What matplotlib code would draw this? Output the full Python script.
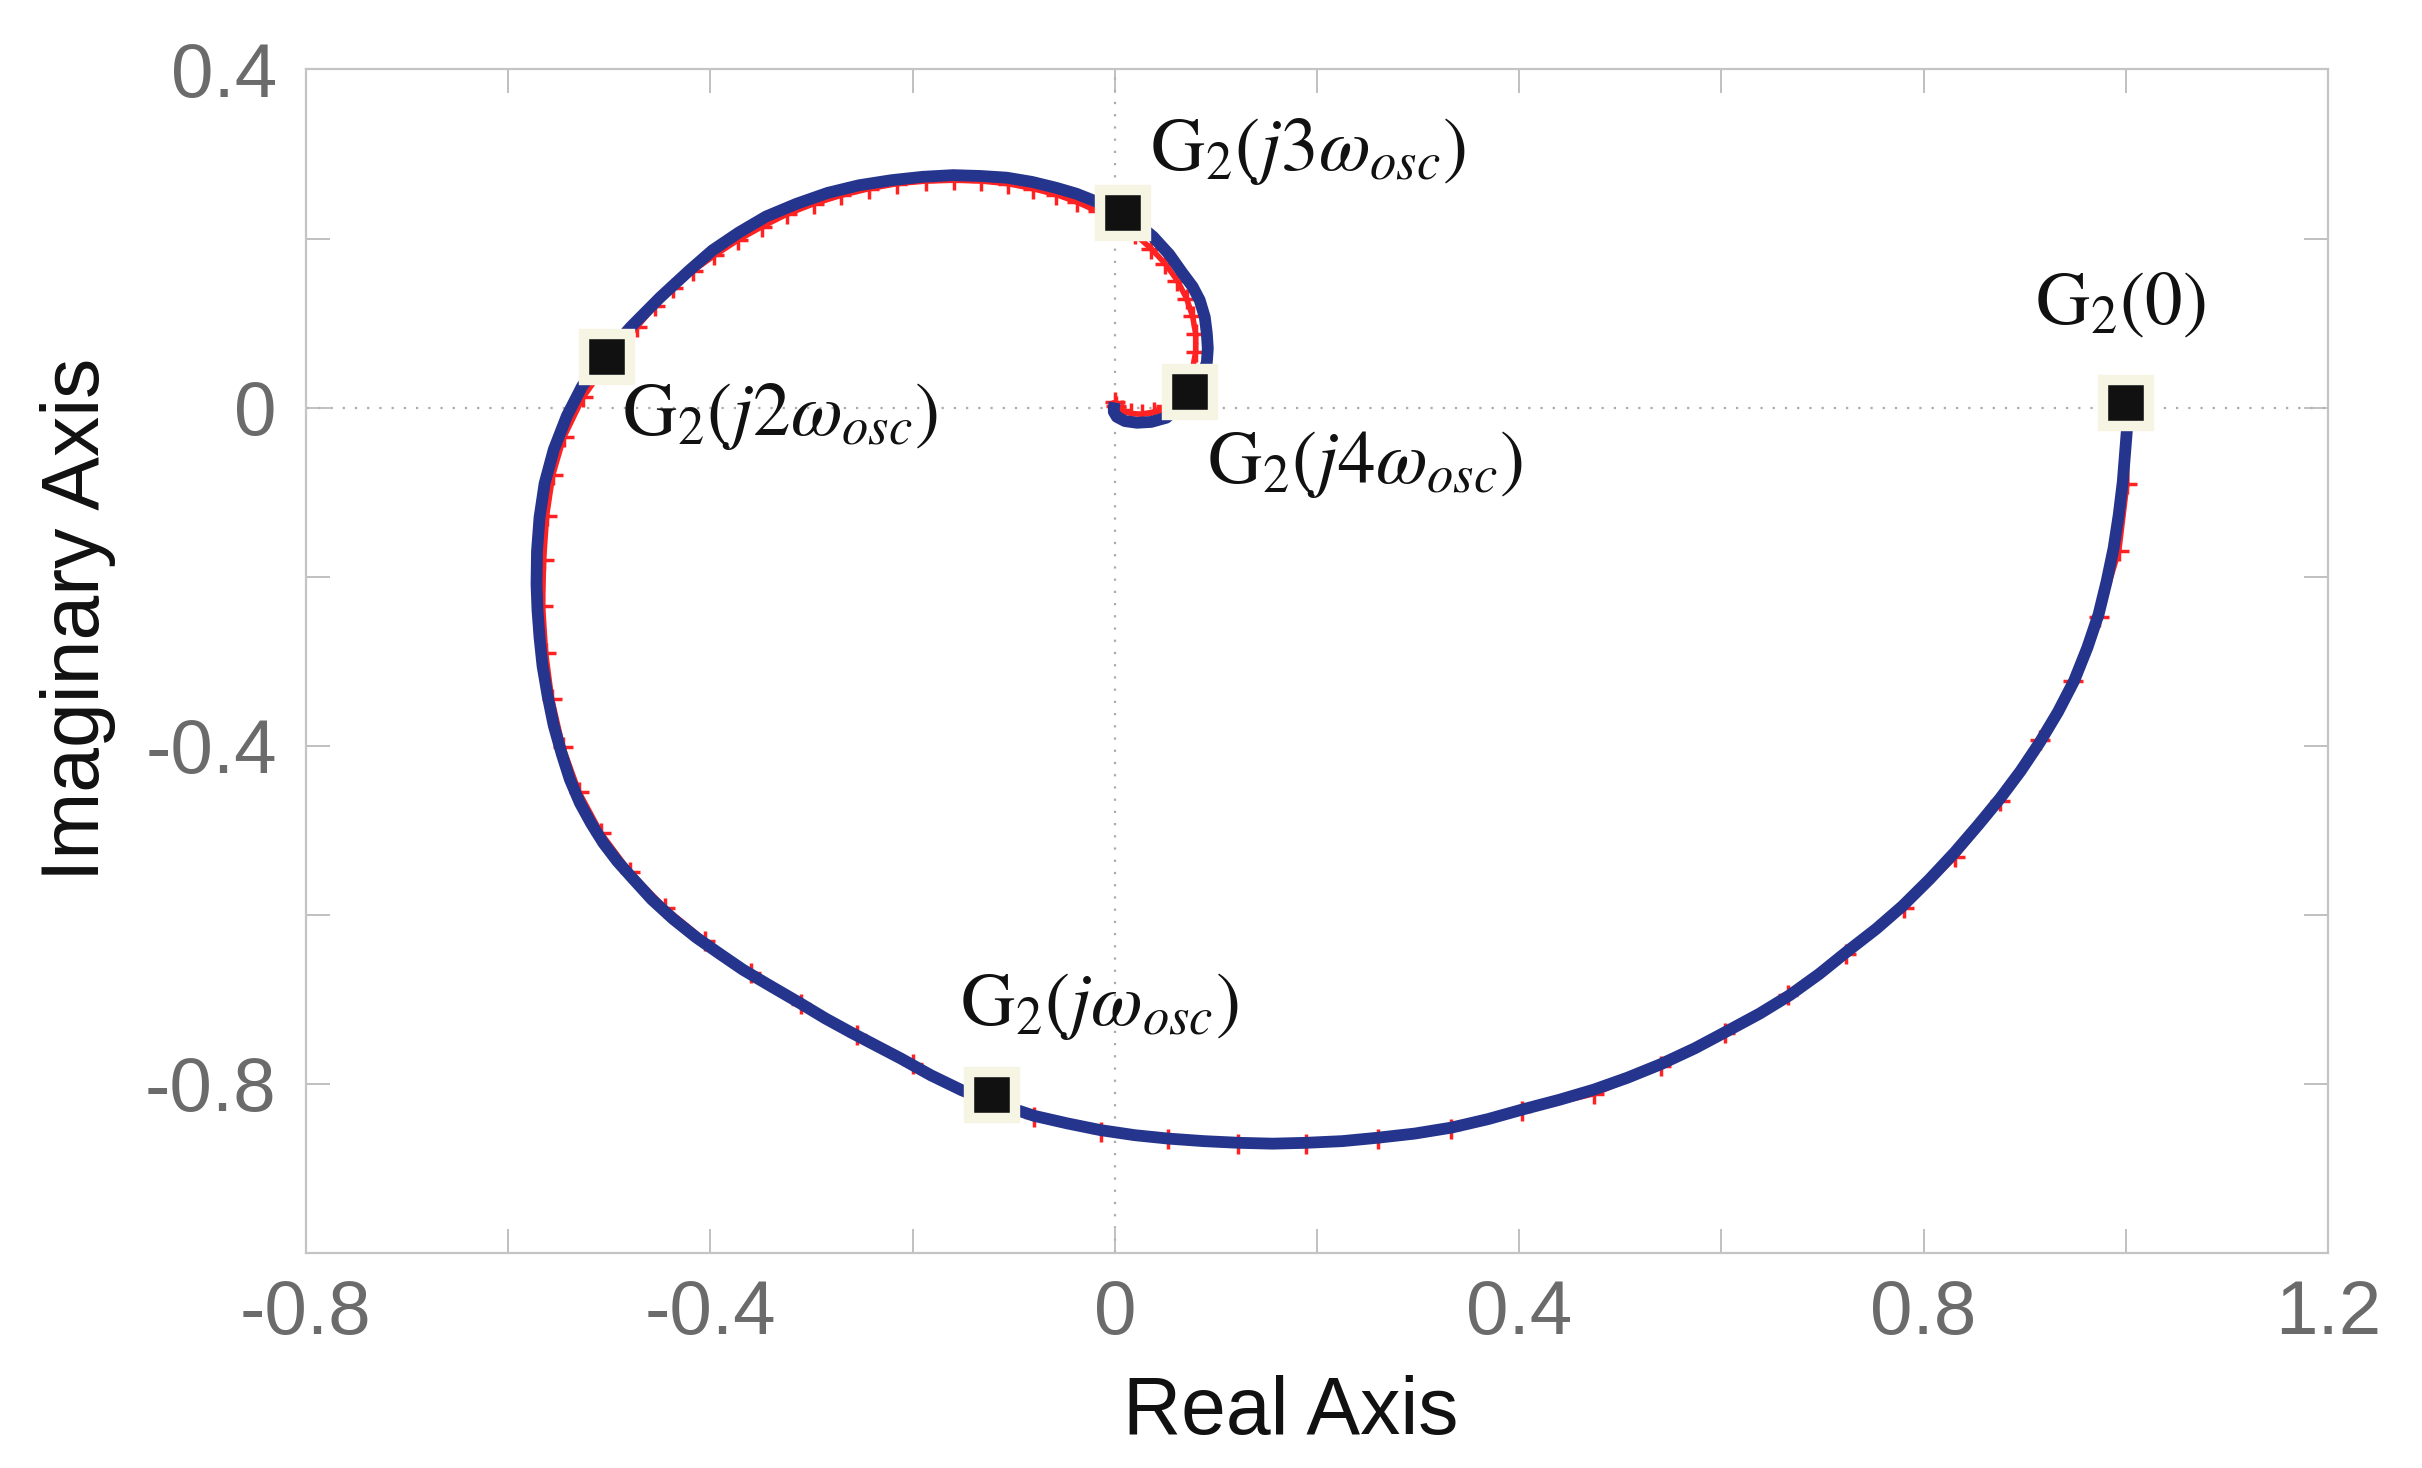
import numpy as np
import matplotlib
matplotlib.use("Agg")
import matplotlib.pyplot as plt

plt.rcParams['font.family'] = ['Liberation Sans', 'DejaVu Sans']
plt.rcParams['mathtext.fontset'] = 'stix'
plt.rcParams['axes.unicode_minus'] = False

# Nyquist curve (thick blue)
blue_re = [1.000, 1.001, 0.999, 0.997, 0.993, 0.988, 0.981, 0.973, 0.962, 0.949,
           0.933, 0.915, 0.896, 0.876, 0.854, 0.831, 0.806, 0.779, 0.753, 0.725,
           0.697, 0.668, 0.638, 0.607, 0.574, 0.540, 0.507, 0.474, 0.440, 0.405,
           0.369, 0.333, 0.297, 0.260, 0.225, 0.189, 0.156, 0.123, 0.088, 0.053,
           0.020, -0.014, -0.047, -0.080, -0.115, -0.151, -0.182, -0.212, -0.236, -0.260,
           -0.286, -0.311, -0.344, -0.368, -0.390, -0.414, -0.437, -0.458, -0.477, -0.492,
           -0.506, -0.518, -0.529, -0.539, -0.547, -0.555, -0.561, -0.566, -0.569, -0.571,
           -0.572, -0.5715, -0.569, -0.564, -0.555, -0.542, -0.527, -0.505, -0.479, -0.450,
           -0.421, -0.398, -0.372, -0.345, -0.315,
           -0.284, -0.253, -0.221, -0.190, -0.160, -0.133, -0.107, -0.082, -0.058, -0.038,
           -0.019, -0.005, 0.008, 0.024, 0.038, 0.054, 0.067, 0.077, 0.084, 0.089,
           0.091, 0.092, 0.091, 0.085, 0.074, 0.064, 0.051, 0.036, 0.022, 0.010,
           0.002, -0.001, -0.001, 0.000]
blue_im = [0.000, -0.028, -0.058, -0.088, -0.127, -0.166, -0.206, -0.245, -0.284, -0.323,
           -0.360, -0.396, -0.430, -0.462, -0.494, -0.526, -0.558, -0.590, -0.617, -0.643,
           -0.670, -0.695, -0.717, -0.737, -0.758, -0.777, -0.793, -0.807, -0.819, -0.830,
           -0.842, -0.852, -0.859, -0.864, -0.868, -0.870, -0.871, -0.870, -0.868, -0.865,
           -0.861, -0.855, -0.847, -0.838, -0.824, -0.808, -0.790, -0.770, -0.755, -0.740,
           -0.723, -0.705, -0.682, -0.665, -0.647, -0.627, -0.605, -0.582, -0.557, -0.537,
           -0.515, -0.492, -0.468, -0.440, -0.410, -0.376, -0.341, -0.306, -0.272, -0.240,
           -0.209, -0.170, -0.130, -0.090, -0.050, -0.010, 0.025, 0.060, 0.095, 0.130,
           0.162, 0.186, 0.207, 0.226, 0.241,
           0.254, 0.263, 0.269, 0.273, 0.275, 0.274, 0.272, 0.267, 0.260, 0.253,
           0.244, 0.237, 0.228, 0.216, 0.202, 0.181, 0.159, 0.143, 0.127, 0.107,
           0.088, 0.070, 0.053, 0.035, 0.018, 0.002, -0.012, -0.017, -0.018, -0.016,
           -0.011, -0.005, 0.000, 0.006]

# second response (red '+' markers)
red_re = [1.000, 1.001, 0.993, 0.973, 0.948, 0.915, 0.876, 0.831, 0.781, 0.723,
          0.666, 0.604, 0.540, 0.474, 0.403, 0.333, 0.260, 0.189, 0.122, 0.053,
          -0.014, -0.080, -0.140, -0.200, -0.255, -0.310, -0.360, -0.405, -0.445, -0.480,
          -0.508, -0.530, -0.546, -0.557, -0.563, -0.566, -0.565, -0.562, -0.556, -0.545,
          -0.526, -0.499, -0.473, -0.455, -0.437, -0.417, -0.396, -0.373, -0.349, -0.324,
          -0.298, -0.271, -0.243, -0.215, -0.187, -0.159, -0.132, -0.106, -0.081, -0.058,
          -0.037, -0.017, 0.002, 0.020, 0.036, 0.050, 0.062, 0.071, 0.077, 0.080,
          0.080, 0.077, 0.071, 0.062, 0.051, 0.039, 0.027, 0.016, 0.007, 0.001,
          0.000]
red_im = [0.000, -0.091, -0.170, -0.248, -0.324, -0.393, -0.466, -0.532, -0.592, -0.647,
          -0.695, -0.740, -0.779, -0.812, -0.832, -0.854, -0.866, -0.871, -0.871, -0.866,
          -0.857, -0.840, -0.813, -0.777, -0.743, -0.706, -0.669, -0.631, -0.592, -0.549,
          -0.504, -0.455, -0.402, -0.345, -0.290, -0.235, -0.180, -0.128, -0.080, -0.035,
          0.012, 0.058, 0.095, 0.120, 0.141, 0.162, 0.180, 0.198, 0.214, 0.229,
          0.241, 0.251, 0.259, 0.265, 0.268, 0.269, 0.268, 0.265, 0.259, 0.252,
          0.243, 0.232, 0.220, 0.205, 0.188, 0.170, 0.150, 0.129, 0.108, 0.087,
          0.066, 0.046, 0.028, 0.013, 0.002, -0.005, -0.008, -0.007, -0.003, 0.002,
          0.006]

# marked frequencies
sq_re = [1.000, -0.121, -0.502, 0.008, 0.074]
sq_im = [0.005, -0.813, 0.060, 0.230, 0.018]
sq_labels = [r'$\mathrm{G}_2(\mathit{0})$',
             r'$\mathrm{G}_2(j\omega_{osc})$',
             r'$\mathrm{G}_2(j\mathit{2}\omega_{osc})$',
             r'$\mathrm{G}_2(j\mathit{3}\omega_{osc})$',
             r'$\mathrm{G}_2(j\mathit{4}\omega_{osc})$']
lab_re = [0.910, -0.153, -0.487, 0.035, 0.091]
lab_im = [0.100, -0.731, -0.033, 0.281, -0.089]

xticks = np.arange(-0.8, 1.21, 0.2)
yticks = np.arange(-1.0, 0.41, 0.2)
xticklabels = ['-0.8', '', '-0.4', '', '0', '', '0.4', '', '0.8', '', '1.2']
yticklabels = ['', '-0.8', '', '-0.4', '', '0', '', '0.4']

fig = plt.figure(figsize=(24.22, 14.68), dpi=100)
ax = fig.add_axes([0.12634, 0.14667, 0.83485, 0.80599])

ax.axhline(0, color='#aaaaaa', lw=1.6, ls=(0, (1, 4.5)), zorder=1)
ax.axvline(0, color='#aaaaaa', lw=1.6, ls=(0, (1, 4.5)), zorder=1)

ax.plot(red_re, red_im, color='#ff2222', lw=4, marker='+', ms=14, mew=2.5,
        solid_joinstyle='round', zorder=2)
ax.plot(blue_re, blue_im, color='#25348c', lw=8.5, solid_capstyle='butt',
        solid_joinstyle='round', zorder=3)
ax.plot(sq_re, sq_im, ls='none', marker='s', ms=33, mfc='#111111', mec='#f6f4e3', mew=7.5, zorder=4)

for t, xr, yi in zip(sq_labels, lab_re, lab_im):
    ax.text(xr, yi, t, fontsize=54, color='#111111', ha='left', va='baseline', zorder=5)

ax.set_xlim(-0.8, 1.2)
ax.set_ylim(-1.0, 0.4)
ax.set_xticks(xticks)
ax.set_xticklabels(xticklabels)
ax.set_yticks(yticks)
ax.set_yticklabels(yticklabels)
ax.tick_params(axis='both', direction='in', top=True, right=True, length=17, width=1.2,
               color='#b5b5b5', labelcolor='#6b6b6b', labelsize=55)
ax.tick_params(axis='x', pad=19)
ax.tick_params(axis='y', pad=21)
for sp in ax.spines.values():
    sp.set_color('#c4c4c4')
    sp.set_linewidth(1.6)

ax.text(0.487, -0.1532, 'Real Axis', transform=ax.transAxes, ha='center', va='baseline',
        fontsize=58, color='#111111')
ax.text(-0.113, 0.535, 'Imaginary Axis', transform=ax.transAxes, ha='center', va='center',
        rotation=90, fontsize=58, color='#111111')

fig.savefig('out.png', dpi=100, facecolor='white')
